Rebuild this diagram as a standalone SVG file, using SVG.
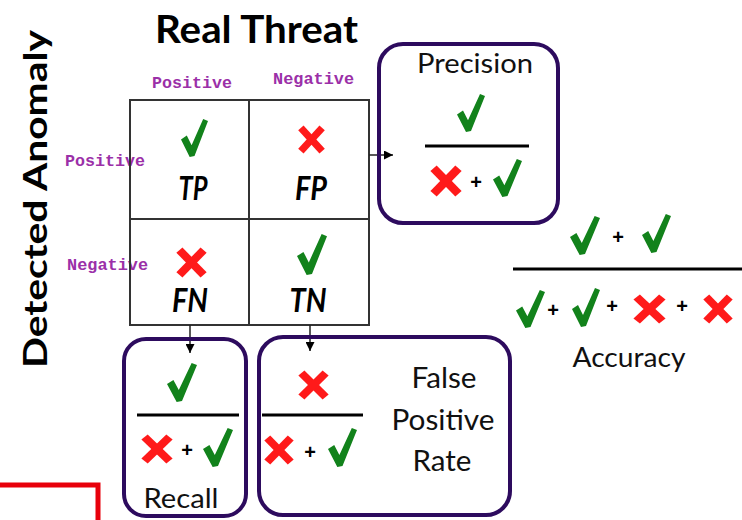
<svg xmlns="http://www.w3.org/2000/svg" xmlns:xlink="http://www.w3.org/1999/xlink" width="742" height="520" viewBox="0 0 742 520">
  <style>
    .title { font-family: Lato, "Liberation Sans", sans-serif; font-weight: 700; fill: #000; }
    .label { font-family: Lato, "Liberation Sans", sans-serif; fill: #111; }
    .cell { font-family: Lato, "Liberation Sans", sans-serif; font-weight: 700; font-style: italic; font-size: 32px; fill: #000; text-anchor: middle; }
    .axis { font-family: "Liberation Mono", "Courier New", monospace; font-weight: 700; font-size: 16px; fill: #9b30a8; }
    .plus { font-family: "Liberation Sans", Arial, sans-serif; font-weight: 700; font-size: 20px; fill: #000; text-anchor: middle; }
    .box { fill: none; stroke: #2d0b5e; stroke-width: 4; }
    .bar { stroke: #000; stroke-width: 3; }
    .grid { fill: none; stroke: #333; stroke-width: 2; }
    .conn { stroke: #222; stroke-width: 1.5; fill: none; }
  </style>
  <defs>
    <!-- green tick -->
    <symbol id="tick" viewBox="0 0 28 40" preserveAspectRatio="none" overflow="visible">
      <path d="M0,22 L6,18 L11,28 L23,1 L28,3 L14,39 L9,40 Z" fill="#12821b"/>
    </symbol>
    <!-- red cross -->
    <symbol id="cross" viewBox="0 0 30 30" preserveAspectRatio="none" overflow="visible">
      <g stroke="#ff1a1a" stroke-width="7.5">
        <line x1="4" y1="3" x2="26" y2="27"/>
        <line x1="26" y1="3" x2="4" y2="27"/>
      </g>
    </symbol>
    <marker id="arrow" viewBox="0 0 10 10" refX="10" refY="5" markerWidth="9" markerHeight="9" markerUnits="userSpaceOnUse" orient="auto">
      <path d="M0,0 L10,5 L0,10 Z" fill="#000"/>
    </marker>
  </defs>

  <!-- axis titles -->
  <text class="title" x="155" y="43" font-size="38" textLength="203" lengthAdjust="spacingAndGlyphs">Real Threat</text>
  <text class="title" transform="translate(47,199) rotate(-90)" text-anchor="middle" font-size="33" textLength="338" lengthAdjust="spacingAndGlyphs">Detected Anomaly</text>

  <!-- column / row headings -->
  <text class="axis" x="152" y="88" textLength="80" lengthAdjust="spacingAndGlyphs">Positive</text>
  <text class="axis" x="273" y="84" textLength="81" lengthAdjust="spacingAndGlyphs">Negative</text>
  <text class="axis" x="65" y="166" textLength="80" lengthAdjust="spacingAndGlyphs">Positive</text>
  <text class="axis" x="67" y="270" textLength="81" lengthAdjust="spacingAndGlyphs">Negative</text>

  <!-- confusion matrix -->
  <g id="matrix">
    <rect class="grid" x="130" y="100" width="239" height="225"/>
    <line class="grid" x1="249" y1="100" x2="249" y2="325"/>
    <line class="grid" x1="130" y1="219" x2="369" y2="219"/>
  </g>
  <g id="cell-tp">
    <use href="#tick" x="181" y="118" width="27" height="39"/>
    <text class="cell" x="193" y="200" textLength="29" lengthAdjust="spacingAndGlyphs">TP</text>
  </g>
  <g id="cell-fp">
    <use href="#cross" x="297" y="125" width="29" height="29"/>
    <text class="cell" x="311" y="200" textLength="32" lengthAdjust="spacingAndGlyphs">FP</text>
  </g>
  <g id="cell-fn">
    <use href="#cross" x="175" y="247" width="33" height="31"/>
    <text class="cell" x="190" y="312" textLength="36" lengthAdjust="spacingAndGlyphs">FN</text>
  </g>
  <g id="cell-tn">
    <use href="#tick" x="297" y="233" width="30" height="42"/>
    <text class="cell" x="308" y="312" textLength="37" lengthAdjust="spacingAndGlyphs">TN</text>
  </g>

  <!-- connectors -->
  <g id="connectors">
    <line class="conn" x1="369" y1="155" x2="393" y2="155" marker-end="url(#arrow)"/>
    <line class="conn" x1="190" y1="325" x2="190" y2="353" marker-end="url(#arrow)"/>
    <line class="conn" x1="310" y1="325" x2="310" y2="351" marker-end="url(#arrow)"/>
  </g>

  <!-- precision -->
  <g id="precision">
    <rect class="box" x="379" y="44" width="179" height="179" rx="24"/>
    <text class="label" x="475" y="73" font-size="27" text-anchor="middle" textLength="116" lengthAdjust="spacingAndGlyphs">Precision</text>
    <use href="#tick" x="457" y="93" width="28" height="39"/>
    <line class="bar" x1="425" y1="146" x2="529" y2="146"/>
    <use href="#cross" x="429" y="165" width="34" height="32"/>
    <text class="plus" x="476" y="189">+</text>
    <use href="#tick" x="493" y="158" width="29" height="39"/>
  </g>

  <!-- accuracy -->
  <g id="accuracy">
    <use href="#tick" x="570" y="215" width="30" height="40"/>
    <text class="plus" x="618" y="244">+</text>
    <use href="#tick" x="642" y="213" width="29" height="40"/>
    <line class="bar" x1="513" y1="269" x2="742" y2="269"/>
    <use href="#tick" x="516" y="289" width="29" height="39"/>
    <text class="plus" x="553" y="317">+</text>
    <use href="#tick" x="572" y="287" width="28" height="40"/>
    <text class="plus" x="612" y="313">+</text>
    <use href="#cross" x="632" y="294" width="35" height="30"/>
    <text class="plus" x="682" y="313">+</text>
    <use href="#cross" x="702" y="294" width="32" height="30"/>
    <text class="label" x="629" y="367" font-size="27" text-anchor="middle" textLength="113" lengthAdjust="spacingAndGlyphs">Accuracy</text>
  </g>

  <!-- recall -->
  <g id="recall">
    <rect class="box" x="124" y="339" width="122" height="177" rx="22"/>
    <use href="#tick" x="167" y="362" width="30" height="40"/>
    <line class="bar" x1="137" y1="415" x2="239" y2="415"/>
    <use href="#cross" x="140" y="434" width="34" height="30"/>
    <text class="plus" x="187" y="457">+</text>
    <use href="#tick" x="203" y="427" width="30" height="40"/>
    <text class="label" x="181" y="508" font-size="27" text-anchor="middle" textLength="75" lengthAdjust="spacingAndGlyphs">Recall</text>
  </g>

  <!-- false positive rate -->
  <g id="fpr">
    <rect class="box" x="259" y="337" width="251" height="178" rx="24"/>
    <use href="#cross" x="297" y="370" width="33" height="30"/>
    <line class="bar" x1="262" y1="415" x2="363" y2="415"/>
    <use href="#cross" x="263" y="435" width="32" height="30"/>
    <text class="plus" x="310" y="459">+</text>
    <use href="#tick" x="328" y="427" width="29" height="40"/>
    <text class="label" x="444" y="388" font-size="28" text-anchor="middle" textLength="65" lengthAdjust="spacingAndGlyphs">False</text>
    <text class="label" x="443" y="430" font-size="28" text-anchor="middle" textLength="103" lengthAdjust="spacingAndGlyphs">Positive</text>
    <text class="label" x="442" y="471" font-size="28" text-anchor="middle" textLength="59" lengthAdjust="spacingAndGlyphs">Rate</text>
  </g>

  <!-- red frame corner -->
  <path d="M0,485 H98 V520" fill="none" stroke="#e8000b" stroke-width="5"/>
</svg>
